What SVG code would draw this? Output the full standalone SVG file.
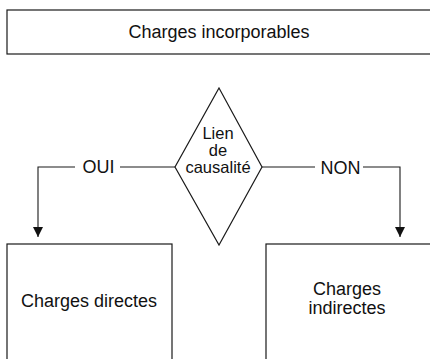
<svg xmlns="http://www.w3.org/2000/svg" width="430" height="359" viewBox="0 0 430 359">
  <style>
    .box { fill: #fff; stroke: #1a1a1a; stroke-width: 1.2; }
    .lbl { font-family: "Liberation Sans", Arial, sans-serif; font-size: 18px; fill: #111; text-anchor: middle; }
    .dlbl { font-family: "Liberation Sans", Arial, sans-serif; font-size: 16.5px; fill: #111; text-anchor: middle; }
    .wire { fill: none; stroke: #1a1a1a; stroke-width: 1.1; }
  </style>
  <defs>
    <marker id="arrow" viewBox="0 0 10 10" refX="10" refY="5" markerWidth="10" markerHeight="10" markerUnits="userSpaceOnUse" orient="auto">
      <path d="M0,0 L10,5 L0,10 Z" fill="#111"/>
    </marker>
  </defs>
  <rect width="430" height="359" fill="#fff"/>

  <g id="charges-incorporables">
    <rect class="box" x="7" y="10" width="430" height="44"/>
    <text class="lbl" x="219" y="38">Charges incorporables</text>
  </g>

  <g id="lien-causalite">
    <polygon class="box" points="219,88 262,167 219,245 175,167"/>
    <text class="dlbl" x="218" y="139">Lien</text>
    <text class="dlbl" x="218" y="156">de</text>
    <text class="dlbl" x="218" y="173">causalité</text>
  </g>

  <g id="charges-directes">
    <rect class="box" x="7" y="244" width="165" height="130"/>
    <text class="lbl" x="89" y="307">Charges directes</text>
  </g>

  <g id="charges-indirectes">
    <rect class="box" x="266" y="244" width="180" height="130"/>
    <text class="lbl" x="347" y="295">Charges</text>
    <text class="lbl" x="347" y="314">indirectes</text>
  </g>

  <g id="connectors">
    <polyline class="wire" points="175,167 120,167"/>
    <polyline class="wire" points="75,167 38,167 38,237" marker-end="url(#arrow)"/>
    <text class="lbl" x="98.5" y="173">OUI</text>
    <polyline class="wire" points="262,167 315,167"/>
    <polyline class="wire" points="363,167 400,167 400,237" marker-end="url(#arrow)"/>
    <text class="lbl" x="340.5" y="173.5">NON</text>
  </g>
</svg>
